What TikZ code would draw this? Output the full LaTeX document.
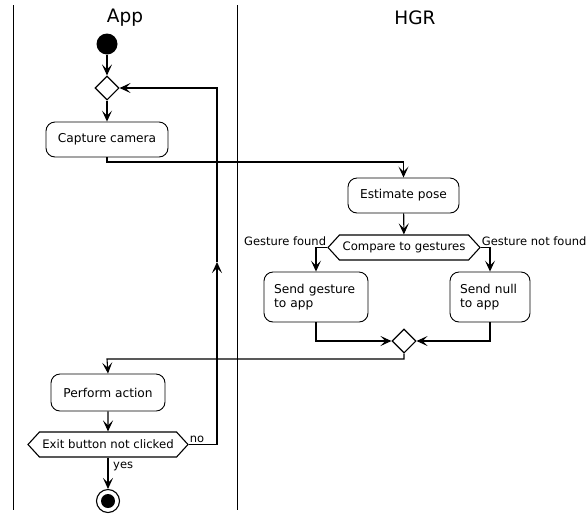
\documentclass[tikz,border=0pt]{standalone}
\usepackage{fontspec}
\setmainfont{DejaVu Sans}
\usetikzlibrary{arrows.meta,shapes.symbols,shapes.geometric}
\tikzset{
  lane/.style={line width=0.8pt},
  flow/.style={line width=1.1pt,-{Stealth[length=11pt,width=10pt,inset=5pt]}},
  activity/.style={draw,line width=0.9pt,rounded corners=9pt,align=left,
    font=\fontsize{12.2}{14.5}\selectfont,inner sep=0pt},
  choice/.style={draw,line width=1.1pt,shape=signal,signal to=east and west,
    signal pointer angle=95,inner sep=0pt,font=\fontsize{11.7}{13}\selectfont},
  merge/.style={draw,line width=1.1pt,diamond,minimum size=24pt,inner sep=0pt},
  lbl/.style={font=\fontsize{11.5}{13}\selectfont,inner sep=1pt},
  title/.style={font=\fontsize{18.5}{21}\selectfont},
}
\begin{document}
\begin{tikzpicture}[x=1pt,y=-1pt]
\useasboundingbox (0,0) rectangle (588,515);
% swimlanes
\draw[lane] (13,5) -- (13,510);
\draw[lane] (237,5) -- (237,510);
\node[title] (tapp) at (125,18) {App};
\node[title] (thgr) at (415,18) {HGR};
% App lane
\node[circle,fill=black,minimum size=21pt,inner sep=0pt] (start) at (107,44) {};
\node[merge] (d1) at (107,88) {};
\node[activity,minimum width=122pt,minimum height=35pt] (cap) at (107,139.5) {Capture camera};
% HGR lane
\node[activity,minimum width=111pt,minimum height=35pt] (est) at (403.5,195.5) {Estimate pose};
\node[choice,minimum width=152pt,minimum height=25pt] (cmp) at (404,247.5) {Compare to gestures};
\node[activity,minimum width=104pt,minimum height=50pt,text width=84pt] (sg) at (316,297) {Send gesture\\to app};
\node[activity,minimum width=80pt,minimum height=50pt,text width=60pt] (sn) at (490,297) {Send null\\to app};
\node[merge] (m) at (404,341) {};
% back in App lane
\node[activity,minimum width=114pt,minimum height=37pt] (pa) at (108,392.5) {Perform action};
\node[choice,minimum width=160pt,minimum height=25pt] (ex) at (108,444.5) {Exit button not clicked};
\node[circle,draw,line width=1.1pt,minimum size=23pt,inner sep=0pt] (end) at (108,501) {};
\fill (end.center) circle (7);
% routing points
\coordinate (c1) at (107,162);
\coordinate (c2) at (107,359);
\coordinate (up) at (217,262);
% connectors
\draw[flow] (start) -- (d1);
\draw[flow] (d1) -- (cap);
\draw[flow] (cap.south) -- (c1) -| (est.north);
\draw[flow] (est) -- (cmp);
\draw[flow] (cmp.west) -| (sg.north);
\draw[flow] (cmp.east) -| (sn.north);
\node[lbl,anchor=south east] (lgf) at ([yshift=1pt]cmp.west) {Gesture found};
\node[lbl,anchor=south west] (lgn) at ([yshift=1pt]cmp.east) {Gesture not found};
\draw[flow] (sg.south) |- (m.west);
\draw[flow] (sn.south) |- (m.east);
\draw[flow] (m.south) -- (m.south |- c2) -- (c2) -- (pa.north);
\draw[flow] (pa) -- (ex);
\draw[flow] (ex.east) -| (up);
\draw[flow] (up) |- (d1.east);
\node[lbl,anchor=south west] (lno) at ([yshift=1pt]ex.east) {no};
\draw[flow] (ex.south) -- (end.north);
\node[lbl,anchor=north west] (lyes) at ([xshift=4pt,yshift=-3pt]ex.south) {yes};
\end{tikzpicture}
\end{document}
